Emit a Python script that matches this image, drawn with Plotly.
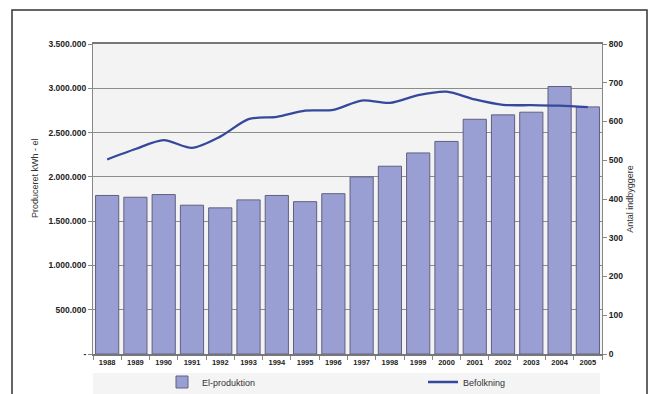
import plotly.graph_objects as go

years = ["1988", "1989", "1990", "1991", "1992", "1993", "1994", "1995", "1996",
         "1997", "1998", "1999", "2000", "2001", "2002", "2003", "2004", "2005"]
el_produktion = [1790000, 1770000, 1800000, 1680000, 1650000, 1740000, 1790000, 1720000, 1810000,
                 2000000, 2120000, 2270000, 2400000, 2650000, 2700000, 2730000, 3020000, 2790000]
befolkning = [502, 529, 552, 532, 561, 606, 612, 628, 630,
              654, 648, 668, 677, 657, 643, 642, 641, 637]
left_tickvals = [0, 500000, 1000000, 1500000, 2000000, 2500000, 3000000, 3500000]
left_ticktext = ["-", "500.000", "1.000.000", "1.500.000", "2.000.000", "2.500.000", "3.000.000", "3.500.000"]
right_tickvals = [0, 100, 200, 300, 400, 500, 600, 700, 800]

W, H = 651, 394
L, R, T, B = 93, 49, 44, 40
pw, ph = W - L - R, H - T - B

def px_x(x):
    return (x - L) / pw

def px_y(y):
    return (H - B - y) / ph

fig = go.Figure()
fig.add_trace(go.Bar(
    x=years, y=el_produktion, name="El-produktion",
    marker=dict(color="#9a9fd3", line=dict(color="#5f6080", width=1)),
    yaxis="y", legend="legend",
))
fig.add_trace(go.Scatter(
    x=years, y=befolkning, name="Befolkning", mode="lines",
    line=dict(color="#34499c", width=2.3, shape="spline", smoothing=0.8),
    yaxis="y2", legend="legend2",
))

tickfont = dict(family="Liberation Sans, Arial, sans-serif", size=8.5, color="#222", weight="bold")
legfont = dict(family="Liberation Sans, Arial, sans-serif", size=9, color="#333")

fig.update_layout(
    width=W, height=H,
    margin=dict(l=L, r=R, t=T, b=B, autoexpand=False),
    paper_bgcolor="white",
    plot_bgcolor="#f3f3f3",
    bargap=0.18,
    showlegend=True,
    font=dict(family="Liberation Sans, Arial, sans-serif", size=9, color="#333"),
    xaxis=dict(
        type="category", showline=True, linecolor="#777", linewidth=1.5, mirror=True,
        ticks="outside", tickson="boundaries", ticklen=4, tickcolor="#888",
        tickfont=dict(family="Liberation Sans, Arial, sans-serif", size=7.5, color="#222", weight="bold"),
        showgrid=False,
    ),
    yaxis=dict(
        range=[0, 3500000], tickvals=left_tickvals, ticktext=left_ticktext,
        showgrid=True, gridcolor="#8c8c8c", gridwidth=1, zeroline=False,
        showline=True, linecolor="#888", linewidth=1,
        ticks="outside", ticklen=4, tickcolor="#888", tickfont=tickfont,
    ),
    yaxis2=dict(
        range=[0, 800], tickvals=right_tickvals, overlaying="y", side="right",
        showgrid=False, zeroline=False, showline=True, linecolor="#888", linewidth=1,
        ticks="outside", ticklen=4, tickcolor="#888", tickfont=tickfont,
        title=dict(text="Antal indbyggere", standoff=4,
                   font=dict(size=9, color="#333")),
    ),
    legend=dict(
        orientation="h", x=px_x(162), xanchor="left", y=px_y(382), yanchor="middle",
        bgcolor="rgba(0,0,0,0)", font=legfont,
    ),
    legend2=dict(
        orientation="h", x=px_x(423), xanchor="left", y=px_y(382), yanchor="middle",
        bgcolor="rgba(0,0,0,0)", font=legfont,
    ),
    annotations=[dict(
        text="Produceret kWh - el", textangle=-90, showarrow=False,
        xref="paper", yref="paper", x=px_x(35), y=px_y(178),
        xanchor="center", yanchor="middle", font=dict(size=9, color="#333"),
    )],
    shapes=[
        dict(type="rect", xref="paper", yref="paper", layer="below",
             x0=0, x1=px_x(600), y0=px_y(400), y1=px_y(373),
             fillcolor="#f4f4f4", line=dict(width=0)),
        dict(type="rect", xref="paper", yref="paper",
             x0=px_x(12), x1=px_x(647), y0=px_y(420), y1=px_y(10),
             line=dict(color="#333", width=1.5)),
    ],
)

fig.write_html("out.html")
